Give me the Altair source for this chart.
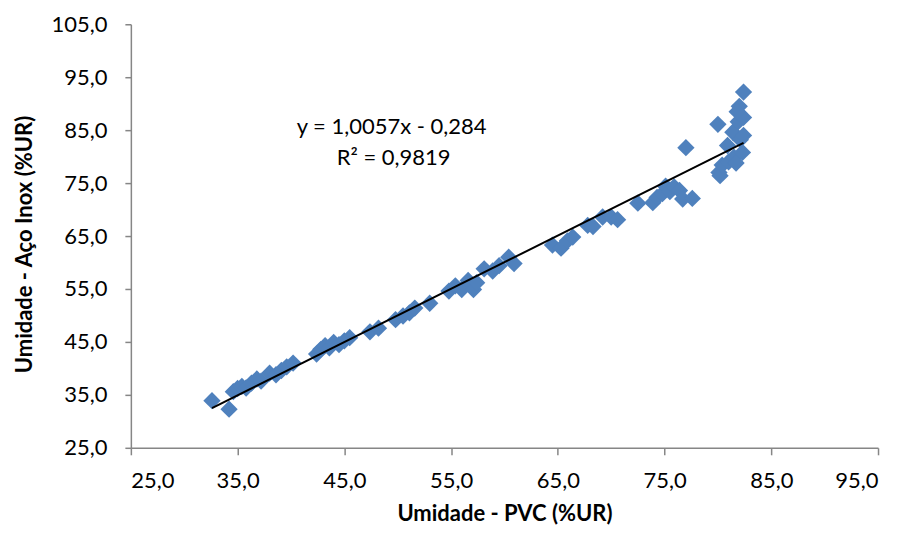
import altair as alt
import pandas as pd

# PVC humidity (%UR) vs stainless-steel humidity (%UR)
pvc = [32.6, 34.2, 34.6, 35.0, 35.4, 35.8, 36.3, 36.8, 37.2, 38.0, 38.6, 39.1, 39.6, 40.2,
       42.4, 42.8, 43.2, 43.6, 44.0, 44.5, 45.0, 45.5, 47.4, 48.2, 49.8, 50.5, 51.1, 51.6,
       53.0, 54.8, 55.4, 56.0, 56.6, 57.1, 57.4, 58.1, 58.9, 59.5, 60.4, 60.9, 64.5, 65.3,
       65.9, 66.4, 67.8, 68.3, 69.2, 70.0, 70.6, 72.5, 73.9, 74.3, 74.8, 75.1, 75.5, 75.9,
       76.4, 76.7, 77.6, 77.0, 80.0, 80.1, 80.2, 80.4, 80.9, 81.0, 81.4, 81.5, 81.7, 81.9,
       82.0, 82.1, 82.4, 82.4, 82.4, 82.3, 81.8]
inox = [33.9, 32.3, 35.6, 36.2, 36.6, 36.3, 37.2, 38.0, 37.6, 39.1, 38.8, 39.6, 40.3, 41.0,
        42.7, 43.6, 44.3, 43.9, 44.9, 44.5, 45.2, 45.8, 46.9, 47.6, 49.2, 49.9, 50.5, 51.4,
        52.3, 54.6, 55.6, 54.9, 56.6, 54.9, 56.2, 58.8, 58.4, 59.4, 61.0, 59.8, 63.3, 62.7,
        64.1, 64.8, 67.0, 66.8, 68.6, 68.6, 68.1, 71.2, 71.3, 72.3, 73.0, 74.4, 73.4, 74.3,
        73.6, 72.0, 72.1, 81.7, 86.1, 77.0, 76.4, 78.4, 82.1, 79.0, 84.6, 79.9, 78.8, 86.6,
        89.5, 83.2, 92.2, 87.4, 84.0, 80.8, 88.5]

# trendline as printed on the chart: y = 1,0057x - 0,284
slope = 1.0057
intercept = -0.284
trend_x = [min(pvc), max(pvc)]
trend_y = [slope * v + intercept for v in trend_x]

eq_lines = ["y = 1,0057x - 0,284", "R² = 0,9819"]

x_ticks = [25, 35, 45, 55, 65, 75, 85, 95]
y_ticks = [25, 35, 45, 55, 65, 75, 85, 95, 105]

pts = pd.DataFrame({"pvc": pvc, "inox": inox})
trend = pd.DataFrame({"pvc": trend_x, "inox": trend_y})

FONT = "Lato"
label_expr = "replace(format(datum.value, '.1f'), '.', ',')"

x_enc = alt.X(
    "pvc:Q",
    scale=alt.Scale(domain=[25, 95], nice=False, zero=False),
    axis=alt.Axis(
        values=x_ticks, labelExpr=label_expr, grid=False,
        title="Umidade - PVC (%UR)", titleFontWeight="bold", titleFontSize=22,
        titleFont=FONT, titleColor="#000000", titleX=374, titleY=66,
        titleBaseline="middle", titleAlign="center",
        labelFont=FONT, labelFontSize=22, labelColor="#000000", labelPadding=16,
        domainColor="#868686", tickColor="#868686", tickSize=7, domainWidth=1.5, tickWidth=1.5,
    ),
)
y_enc = alt.Y(
    "inox:Q",
    scale=alt.Scale(domain=[25, 105], nice=False, zero=False),
    axis=alt.Axis(
        values=y_ticks, labelExpr=label_expr, grid=False,
        title="Umidade - Aço Inox (%UR)", titleFontWeight="bold", titleFontSize=22,
        titleFont=FONT, titleColor="#000000", titleX=-106, titleY=220, titleAngle=270,
        titleBaseline="middle", titleAlign="center",
        labelFont=FONT, labelFontSize=22, labelColor="#000000", labelPadding=18,
        domainColor="#868686", tickColor="#868686", tickSize=6, domainWidth=1.5, tickWidth=1.5,
    ),
)

points = alt.Chart(pts).mark_point(
    shape="diamond", filled=True, size=300, color="#4F81BD", opacity=1
).encode(x=x_enc, y=y_enc)

line = alt.Chart(trend).mark_line(color="#000000", strokeWidth=2).encode(
    x="pvc:Q", y="inox:Q"
)

eq_df = pd.DataFrame({"t": eq_lines, "row": [0, 1]})
eq1 = alt.Chart(eq_df.iloc[[0]]).mark_text(
    font=FONT, fontSize=22, color="#000000", align="center", baseline="middle"
).encode(text="t:N", x=alt.value(261), y=alt.value(103))
eq2 = alt.Chart(eq_df.iloc[[1]]).mark_text(
    font=FONT, fontSize=22, color="#000000", align="center", baseline="middle"
).encode(text="t:N", x=alt.value(263), y=alt.value(134))

chart = alt.layer(points, line, eq1, eq2).properties(
    width=748, height=424,
    autosize=alt.AutoSizeParams(type="none"),
    padding={"left": 123, "top": 16, "right": 20, "bottom": 84},
).configure_view(stroke=None)

chart.save("out.html", embed_options={"renderer": "svg", "actions": False})
